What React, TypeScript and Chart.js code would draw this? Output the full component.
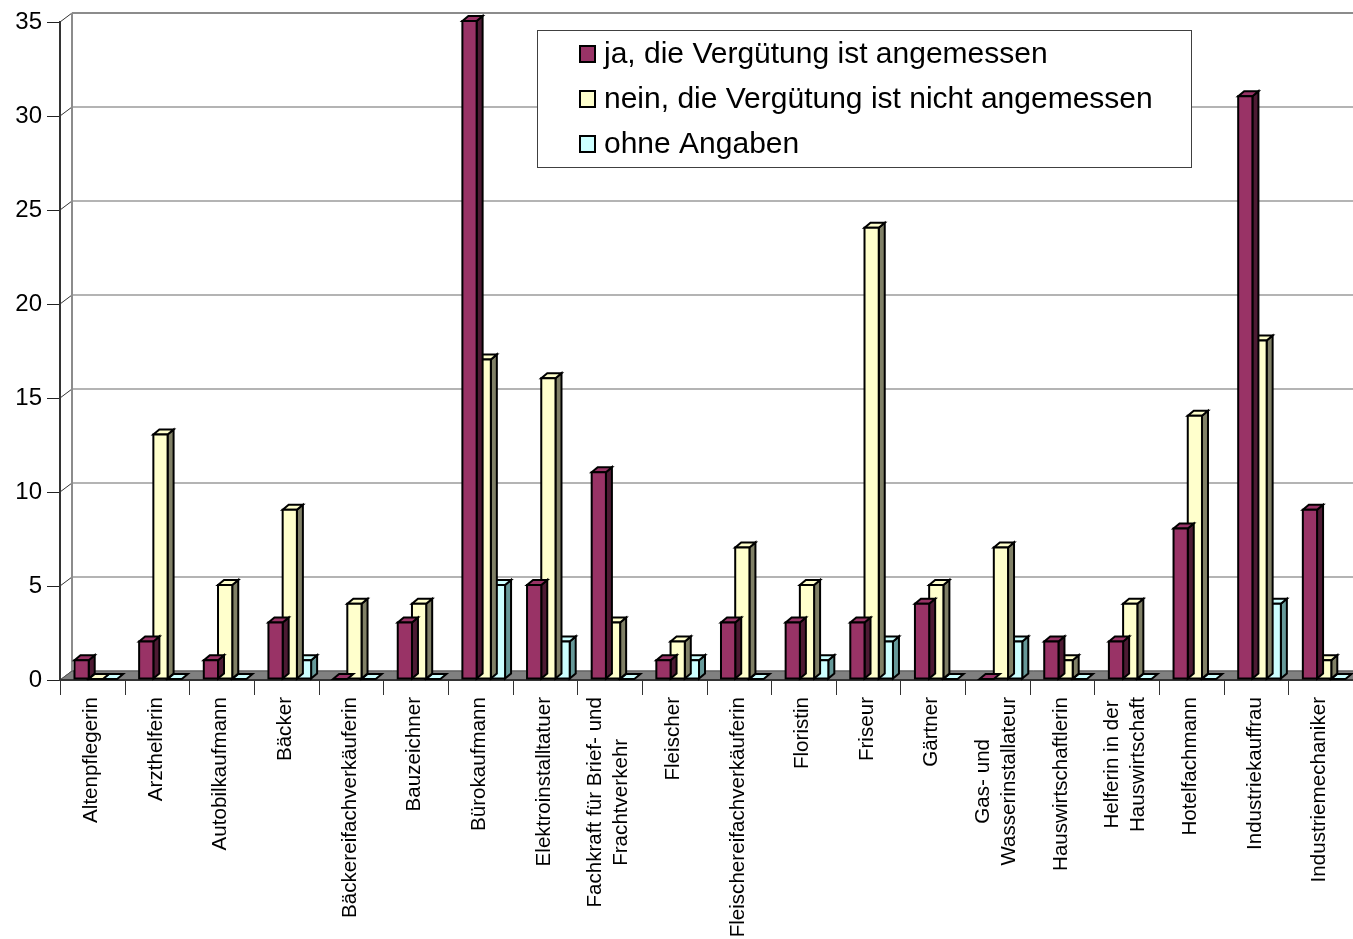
import React, { useEffect, useRef } from 'react';
import { Chart, registerables } from 'chart.js';

Chart.register(...registerables);

const categories: string[][] = [
  ['Altenpflegerin'],
  ['Arzthelferin'],
  ['Autobilkaufmann'],
  ['Bäcker'],
  ['Bäckereifachverkäuferin'],
  ['Bauzeichner'],
  ['Bürokaufmann'],
  ['Elektroinstalltatuer'],
  ['Fachkraft für Brief- und', 'Frachtverkehr'],
  ['Fleischer'],
  ['Fleischereifachverkäuferin'],
  ['Floristin'],
  ['Friseur'],
  ['Gärtner'],
  ['Gas- und', 'Wasserinstallateur'],
  ['Hauswirtschaftlerin'],
  ['Helferin in der', 'Hauswirtschaft'],
  ['Hotelfachmann'],
  ['Industriekauffrau'],
  ['Industriemechaniker'],
];

const seriesLabels = [
  'ja, die Vergütung ist angemessen',
  'nein, die Vergütung ist nicht angemessen',
  'ohne Angaben',
];

const jaValues = [1, 2, 1, 3, 0, 3, 35, 5, 11, 1, 3, 3, 3, 4, 0, 2, 2, 8, 31, 9];
const neinValues = [0, 13, 5, 9, 4, 4, 17, 16, 3, 2, 7, 5, 24, 5, 7, 1, 4, 14, 18, 1];
const ohneValues = [0, 0, 0, 1, 0, 0, 5, 2, 0, 1, 0, 1, 2, 0, 2, 0, 0, 0, 4, 0];

const yTicks = [0, 5, 10, 15, 20, 25, 30, 35];

const frontColors = ['#993366', '#FFFFCC', '#CCFFFF'];
const topColors = ['#993366', '#FFFFCC', '#CCFFFF'];
const sideColors = ['#4D1A33', '#808066', '#669999'];

const FONT = 'Arial, "Liberation Sans", sans-serif';

// 3D geometry
const WALL_DX = 12;
const WALL_DY = -9;
const BAR_SHIFT_X = 3.5;
const BAR_SHIFT_Y = -1;
const BAR_DX = 6;
const BAR_DY = -5;

function poly(ctx: CanvasRenderingContext2D, pts: number[][], fill: string) {
  ctx.beginPath();
  ctx.moveTo(pts[0][0], pts[0][1]);
  for (let i = 1; i < pts.length; i++) ctx.lineTo(pts[i][0], pts[i][1]);
  ctx.closePath();
  ctx.fillStyle = fill;
  ctx.fill();
  ctx.stroke();
}

const scenePlugin = {
  id: 'scene3d',
  beforeDatasetsDraw(chart: any) {
    const ctx: CanvasRenderingContext2D = chart.ctx;
    const area = chart.chartArea;
    const yScale = chart.scales.y;
    const xScale = chart.scales.x;
    const W = chart.width;
    ctx.save();
    // back wall gridlines
    yTicks.forEach((v) => {
      const y = yScale.getPixelForValue(v);
      const isTop = v === yTicks[yTicks.length - 1];
      ctx.beginPath();
      ctx.strokeStyle = isTop ? '#8C8C8C' : '#6A6A6A';
      ctx.lineWidth = isTop ? 2.2 : 1.2;
      ctx.moveTo(area.left + WALL_DX, y + WALL_DY);
      ctx.lineTo(W, y + WALL_DY);
      ctx.stroke();
      // connector
      ctx.beginPath();
      ctx.strokeStyle = '#333';
      ctx.lineWidth = 1;
      ctx.moveTo(area.left, y);
      ctx.lineTo(area.left + WALL_DX, y + WALL_DY);
      ctx.stroke();
    });
    // left wall edge
    const yTop = yScale.getPixelForValue(yTicks[yTicks.length - 1]);
    const yBot = yScale.getPixelForValue(0);
    ctx.beginPath();
    ctx.strokeStyle = '#8C8C8C';
    ctx.lineWidth = 2;
    ctx.moveTo(area.left + WALL_DX, yTop + WALL_DY);
    ctx.lineTo(area.left + WALL_DX, yBot + WALL_DY);
    ctx.stroke();
    // floor
    ctx.beginPath();
    ctx.moveTo(area.left, yBot);
    ctx.lineTo(area.left + WALL_DX, yBot + WALL_DY);
    ctx.lineTo(W + WALL_DX, yBot + WALL_DY);
    ctx.lineTo(W + WALL_DX, yBot);
    ctx.closePath();
    ctx.fillStyle = '#808080';
    ctx.fill();
    ctx.strokeStyle = '#555';
    ctx.lineWidth = 1;
    ctx.stroke();
    // front x axis line
    ctx.beginPath();
    ctx.strokeStyle = '#333';
    ctx.lineWidth = 2;
    ctx.moveTo(area.left, yBot);
    ctx.lineTo(W, yBot);
    ctx.stroke();
    // x tick marks at category boundaries
    ctx.lineWidth = 1;
    ctx.strokeStyle = '#333';
    const n = categories.length;
    const step = xScale.getPixelForValue(1) - xScale.getPixelForValue(0);
    for (let i = 0; i <= n; i++) {
      let x = i < n ? xScale.getPixelForValue(i) - step / 2 : area.right;
      x = Math.round(x) + 0.5;
      ctx.beginPath();
      ctx.moveTo(x, yBot);
      ctx.lineTo(x, yBot + 15);
      ctx.stroke();
    }
    // x labels (rotated, centered lines)
    ctx.fillStyle = '#000';
    ctx.font = '20.6px ' + FONT;
    ctx.textBaseline = 'middle';
    ctx.textAlign = 'center';
    const lineH = 26;
    categories.forEach((lines, i) => {
      const cx = xScale.getPixelForValue(i) - 1;
      const maxW = Math.max(...lines.map((l) => ctx.measureText(l).width));
      ctx.save();
      ctx.translate(cx, yBot + 17 + maxW / 2);
      ctx.rotate(-Math.PI / 2);
      lines.forEach((l, j) => {
        ctx.fillText(l, 0, (j - (lines.length - 1) / 2) * lineH);
      });
      ctx.restore();
    });
    ctx.restore();
  },
  beforeDatasetDraw(chart: any, args: any) {
    const ctx: CanvasRenderingContext2D = chart.ctx;
    const di = args.index;
    const meta = args.meta;
    ctx.save();
    ctx.strokeStyle = '#000';
    ctx.lineWidth = 2;
    ctx.lineJoin = 'miter';
    meta.data.forEach((el: any) => {
      const p = el.getProps(['x', 'y', 'base', 'width'], true);
      const left = p.x - p.width / 2 + BAR_SHIFT_X;
      const right = p.x + p.width / 2 + BAR_SHIFT_X;
      const top = Math.min(p.y, p.base) + BAR_SHIFT_Y;
      const bottom = Math.max(p.y, p.base) + BAR_SHIFT_Y;
      if (bottom - top > 0.5) {
        poly(ctx, [
          [right, bottom],
          [right + BAR_DX, bottom + BAR_DY],
          [right + BAR_DX, top + BAR_DY],
          [right, top],
        ], sideColors[di]);
      }
      poly(ctx, [
        [left, top],
        [left + BAR_DX, top + BAR_DY],
        [right + BAR_DX, top + BAR_DY],
        [right, top],
      ], topColors[di]);
      if (bottom - top > 0.5) {
        ctx.beginPath();
        ctx.rect(left, top, right - left, bottom - top);
        ctx.fillStyle = frontColors[di];
        ctx.fill();
        ctx.stroke();
      }
    });
    ctx.restore();
    return false;
  },
  afterDraw(chart: any) {
    const ctx: CanvasRenderingContext2D = chart.ctx;
    ctx.save();
    const bx = 537.5, by = 30.5, bw = 654, bh = 137;
    ctx.fillStyle = '#fff';
    ctx.fillRect(bx, by, bw, bh);
    ctx.strokeStyle = '#404040';
    ctx.lineWidth = 1;
    ctx.strokeRect(bx, by, bw, bh);
    const rows = [54, 99, 144];
    chart.data.datasets.forEach((ds: any, i: number) => {
      const cy = rows[i];
      ctx.fillStyle = frontColors[i];
      ctx.strokeStyle = '#000';
      ctx.lineWidth = 2;
      ctx.beginPath();
      ctx.rect(580, cy - 8, 15, 16);
      ctx.fill();
      ctx.stroke();
      ctx.fillStyle = '#000';
      ctx.font = '30px ' + FONT;
      ctx.textBaseline = 'middle';
      ctx.textAlign = 'left';
      ctx.fillText(ds.label, 604, cy + 1);
    });
    ctx.restore();
  },
};

export default function App() {
  const ref = useRef<HTMLCanvasElement | null>(null);
  useEffect(() => {
    if (!ref.current) return;
    const chart = new Chart(ref.current, {
      type: 'bar',
      data: {
        labels: categories,
        datasets: [
          { label: seriesLabels[0], data: jaValues, backgroundColor: frontColors[0] },
          { label: seriesLabels[1], data: neinValues, backgroundColor: frontColors[1] },
          { label: seriesLabels[2], data: ohneValues, backgroundColor: frontColors[2] },
        ],
      },
      options: {
        animation: false,
        responsive: false,
        maintainAspectRatio: false,
        devicePixelRatio: 1,
        layout: { padding: { top: 22, right: 0, bottom: 259, left: 0 } },
        datasets: { bar: { barPercentage: 1, categoryPercentage: 0.66, clip: false as any } },
        plugins: { legend: { display: false }, tooltip: { enabled: false } },
        scales: {
          x: { display: false, offset: true },
          y: {
            min: 0,
            max: 35,
            afterFit: (s: any) => { s.width = 60; },
            afterBuildTicks: (s: any) => { s.ticks = yTicks.map((v) => ({ value: v })); },
            ticks: {
              stepSize: 5,
              padding: 5,
              color: '#000',
              font: { family: FONT, size: 24 },
            },
            grid: {
              drawOnChartArea: false,
              drawTicks: true,
              tickLength: 13,
              tickColor: '#222',
              tickWidth: 1,
            },
            border: { display: true, color: '#333', width: 2 },
          },
        },
      },
      plugins: [scenePlugin],
    });
    return () => chart.destroy();
  }, []);
  return (
    <div style={{ position: 'absolute', left: 0, top: 0, width: 1353, height: 939, background: '#fff' }}>
      <canvas ref={ref} width={1353} height={939} style={{ display: 'block' }} />
    </div>
  );
}
